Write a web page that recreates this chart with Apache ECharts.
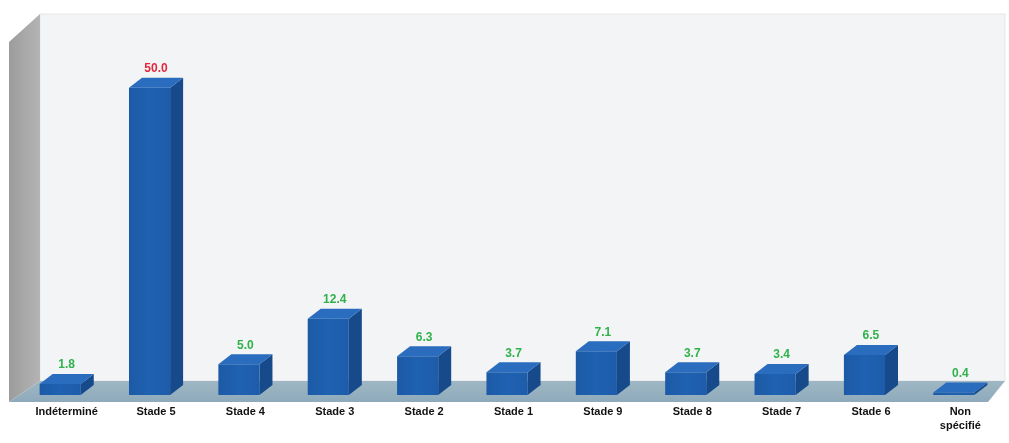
<!DOCTYPE html>
<html>
<head>
<meta charset="utf-8">
<script src="https://cdn.jsdelivr.net/npm/echarts@6/dist/echarts.min.js"></script>
<style>
  html, body { margin: 0; padding: 0; background: #ffffff; }
  #chart { width: 1009px; height: 443px; }
</style>
</head>
<body>
<div id="chart"></div>
<script>
// Categories and shares (%)
const categories = ['Indéterminé', 'Stade 5', 'Stade 4', 'Stade 3', 'Stade 2', 'Stade 1',
                    'Stade 9', 'Stade 8', 'Stade 7', 'Stade 6', 'Non\nspécifié'];
const values = [1.8, 50.0, 5.0, 12.4, 6.3, 3.7, 7.1, 3.7, 3.4, 6.5, 0.4];
const highlightIndex = 1; // label drawn in red

const chart = echarts.init(document.getElementById('chart'));

// 3D box look: front face, right side and top
const DX = 13, DY = -10;
const FRONT = '#1f62b1', SIDE = '#164a8a', TOP = '#2a6cbd';

function renderBox(params, api) {
  const i = api.value(0);
  const v = api.value(1);
  const top = api.coord([i, v]);
  const base = api.coord([i, 0]);
  const bw = api.size([1, 0])[0] * 0.46;
  const xl = top[0] - bw / 2 - DX / 2;
  const xr = xl + bw;
  const yt = top[1];
  const yb = base[1];
  const isHi = i === highlightIndex;
  return {
    type: 'group',
    children: [
      {
        type: 'polygon',
        shape: { points: [[xr, yt], [xr + DX, yt + DY], [xr + DX, yb + DY], [xr, yb]] },
        style: { fill: SIDE }
      },
      {
        type: 'polygon',
        shape: { points: [[xl, yt], [xl + DX, yt + DY], [xr + DX, yt + DY], [xr, yt]] },
        style: { fill: TOP }
      },
      {
        type: 'rect',
        shape: { x: xl, y: yt, width: bw, height: Math.max(yb - yt, 0.5) },
        style: {
          fill: new echarts.graphic.LinearGradient(0, 0, 1, 0, [
            { offset: 0, color: '#1c5aa6' },
            { offset: 0.5, color: FRONT },
            { offset: 1, color: '#1d5cab' }
          ])
        }
      },
      {
        type: 'text',
        x: (xl + xr + DX) / 2,
        y: yt + DY - 3,
        style: {
          text: v.toFixed(1),
          align: 'center',
          verticalAlign: 'bottom',
          fill: isHi ? '#e0283c' : '#2fb24c',
          font: 'bold 12px "Liberation Sans", Arial, sans-serif'
        }
      }
    ]
  };
}

const option = {
  backgroundColor: '#ffffff',
  animation: false,
  grid: { left: 22, right: 4, top: 57, bottom: 48 },
  xAxis: {
    type: 'category',
    data: categories,
    axisLine: { show: false },
    axisTick: { show: false },
    axisLabel: {
      interval: 0,
      margin: 10,
      color: '#111111',
      fontWeight: 'bold',
      fontSize: 11,
      lineHeight: 14,
      fontFamily: '"Liberation Sans", Arial, sans-serif'
    }
  },
  yAxis: {
    type: 'value',
    min: 0,
    max: 55,
    show: false,
    splitLine: { show: false }
  },
  graphic: [
    // back panel
    {
      type: 'polygon', z: 0,
      shape: { points: [[40, 14], [1005, 14], [1005, 381], [40, 381]] },
      style: { fill: '#f3f4f5', stroke: '#e4e6e8', lineWidth: 1 }
    },
    // left wall
    {
      type: 'polygon', z: 0,
      shape: { points: [[9, 42], [40, 14], [40, 381], [9, 402]] },
      style: {
        fill: new echarts.graphic.LinearGradient(0, 0, 1, 0, [
          { offset: 0, color: '#9c9c9c' },
          { offset: 1, color: '#b4b4b4' }
        ])
      }
    },
    // floor
    {
      type: 'polygon', z: 0,
      shape: { points: [[40, 381], [1005, 381], [988, 402], [9, 402]] },
      style: {
        fill: new echarts.graphic.LinearGradient(0, 0, 0, 1, [
          { offset: 0, color: '#9fb7c4' },
          { offset: 1, color: '#8eaabb' }
        ])
      }
    }
  ],
  series: [{
    type: 'custom',
    renderItem: renderBox,
    encode: { x: 0, y: 1 },
    data: values.map((v, i) => [i, v]),
    z: 3
  }]
};

chart.setOption(option);
</script>
</body>
</html>
